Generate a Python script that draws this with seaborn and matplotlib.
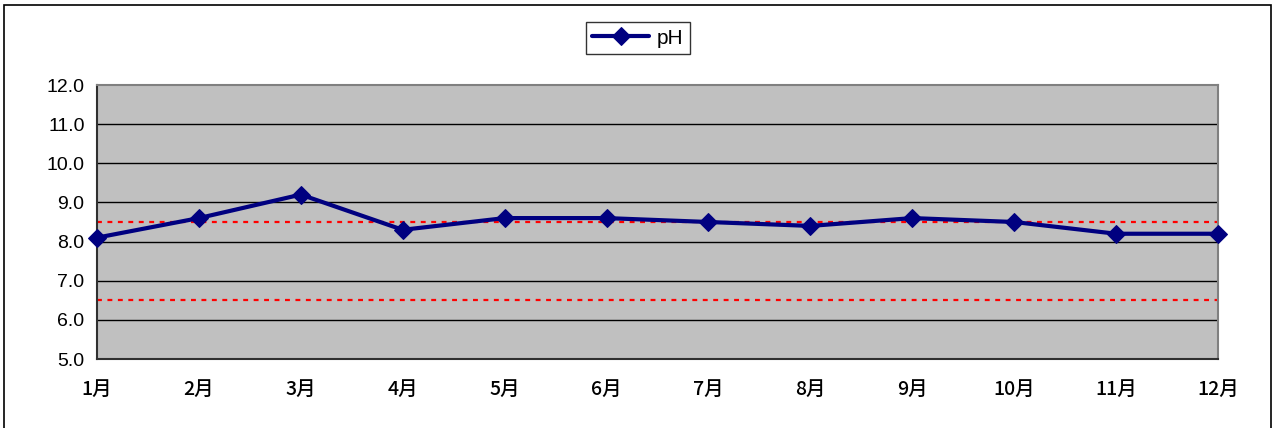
import matplotlib
matplotlib.use("Agg")
import matplotlib.pyplot as plt
import seaborn as sns
import pandas as pd

months = ["1月", "2月", "3月", "4月", "5月", "6月", "7月", "8月", "9月", "10月", "11月", "12月"]
ph_values = [8.1, 8.6, 9.2, 8.3, 8.6, 8.6, 8.5, 8.4, 8.6, 8.5, 8.2, 8.2]
limits = [8.5, 6.5]
yticks = [5.0, 6.0, 7.0, 8.0, 9.0, 10.0, 11.0, 12.0]

sns.set_theme(style="white")
plt.rcParams['font.family'] = ['Liberation Sans', 'Noto Sans CJK JP', 'DejaVu Sans']

df = pd.DataFrame({"month": months, "pH": ph_values, "idx": range(len(months))})

fig = plt.figure(figsize=(12.74, 4.28), dpi=100)
ax = fig.add_axes([97/1274, 1-359/428, (1218-97)/1274, (359-85)/428])
ax.set_facecolor("#C0C0C0")

for y in yticks[1:-1]:
    ax.axhline(y, color="black", lw=1.0, zorder=1)
for lim in limits:
    ax.axhline(lim, color="#FF0000", lw=1.6, ls=(0, (2.2, 2.5)), zorder=2)

sns.lineplot(data=df, x="idx", y="pH", ax=ax, color="#000080", lw=3,
             marker="D", markersize=9, markeredgecolor="#000080",
             label="pH", zorder=3, clip_on=False)

ax.set_xlim(0, len(months) - 1)
ax.set_ylim(5, 12)
ax.set_xticks(range(len(months)))
ax.set_xticklabels(months, fontsize=14, color="black",
                   family=['Noto Sans CJK JP', 'DejaVu Sans'], fontweight="medium")
ax.set_yticks(yticks)
ax.set_yticklabels([f"{v:.1f}" for v in yticks], fontsize=14, color="black")
ax.set_xlabel("")
ax.set_ylabel("")
ax.tick_params(axis="x", direction="in", length=5, width=1, color="#404040", pad=15)
ax.tick_params(axis="y", length=0, pad=9)
for s in ["top", "right"]:
    ax.spines[s].set_color("#808080")
    ax.spines[s].set_linewidth(1.5)
for s in ["left", "bottom"]:
    ax.spines[s].set_color("#303030")
    ax.spines[s].set_linewidth(1.5)

leg = ax.legend(loc="center", bbox_to_anchor=(638/1274, 1-38/428),
                bbox_transform=fig.transFigure, frameon=True, fancybox=False,
                fontsize=15, handlelength=2.7, borderpad=0.3, handletextpad=0.4)
leg.get_frame().set_edgecolor("black")
leg.get_frame().set_linewidth(1.0)
for t in leg.get_texts():
    t.set_color("black")

border = plt.Rectangle((4/1274, -0.05), 1267/1274, 1.05-5/428, transform=fig.transFigure,
                       fill=False, edgecolor="black", lw=1.2)
fig.patches.append(border)

fig.savefig("out.png", dpi=100, facecolor="white")
